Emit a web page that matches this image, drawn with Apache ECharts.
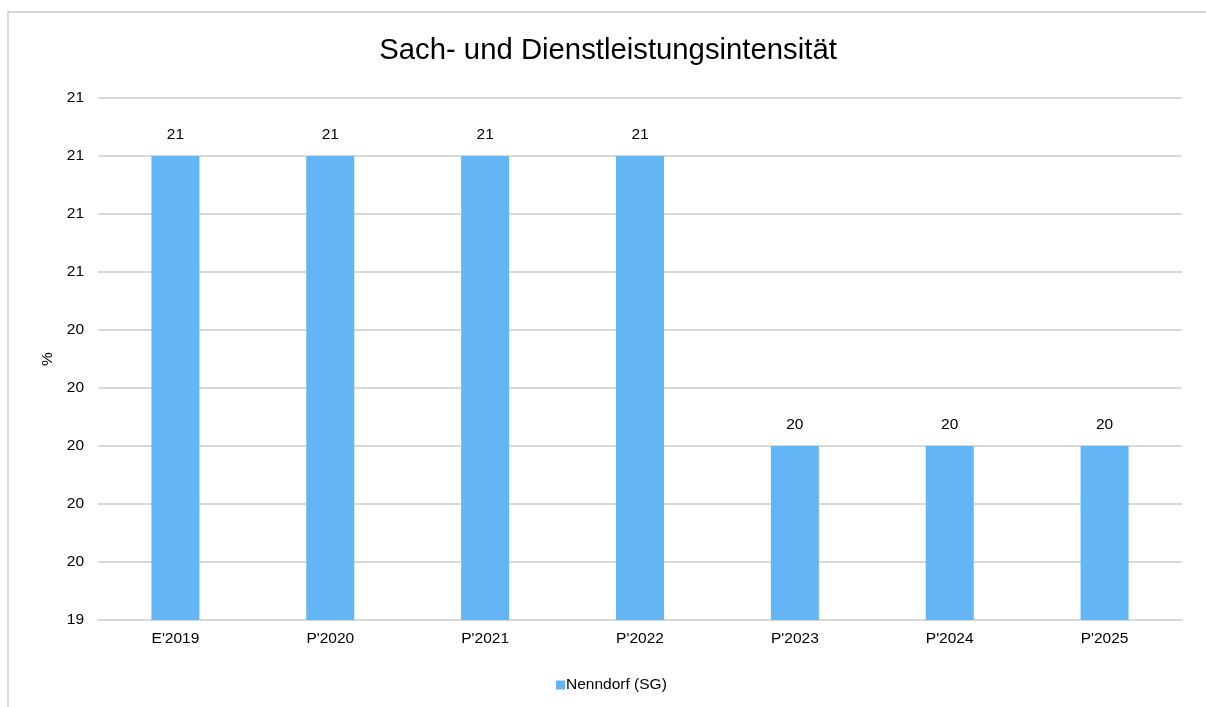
<!DOCTYPE html>
<html lang="de">
<head>
    <meta charset="UTF-8">
    <title>Sach- und Dienstleistungsintensität</title>
    <script src="https://cdn.jsdelivr.net/npm/echarts@6/dist/echarts.min.js"></script>
    <style>
        html, body { margin: 0; padding: 0; overflow: hidden; background: #fff; }
        #frame { position: absolute; left: 7px; top: 11px; width: 1300px; height: 800px; border: 2px solid #d9d9d9; box-sizing: border-box; }
        #main { position: absolute; left: 0; top: 0; width: 1206px; height: 707px; }
    </style>
</head>
<body>
<div id="frame"></div>
<div id="main"></div>
<script>
    // Daten
    const categories = ["E'2019", "P'2020", "P'2021", "P'2022", "P'2023", "P'2024", "P'2025"];
    const nenndorfValues = [21.0, 21.0, 21.0, 21.0, 20.0, 20.0, 20.0];
    const seriesName = 'Nenndorf (SG)';

    let myChart = echarts.init(document.getElementById('main'));
    let option = {
        textStyle: { fontFamily: 'Liberation Sans, Arial, sans-serif' },
        title: {
            text: 'Sach- und Dienstleistungsintensität',
            left: 603,
            textAlign: 'center',
            top: 31,
            textStyle: { fontSize: 29.3, fontWeight: 'normal', color: '#000', fontFamily: 'Liberation Sans, Arial, sans-serif' }
        },
        legend: {
            bottom: 9,
            left: 551,
            itemWidth: 9,
            itemHeight: 9,
            itemGap: 10,
            icon: 'rect',
            textStyle: { fontSize: 15.5, color: '#000', padding: [0, 0, 0, -4] },
            data: [seriesName]
        },
        grid: { left: 98, right: 24, top: 98, bottom: 87, containLabel: false },
        xAxis: {
            type: 'category',
            data: categories,
            axisLine: { lineStyle: { color: '#d9d9d9', width: 2 } },
            axisTick: { show: false },
            axisLabel: { color: '#000', fontSize: 15.5, margin: 11 }
        },
        yAxis: {
            type: 'value',
            name: '%',
            nameLocation: 'middle',
            nameGap: 40,
            nameRotate: 90,
            nameTextStyle: { color: '#000', fontSize: 15.5 },
            min: 19.4,
            max: 21.2,
            interval: 0.2,
            axisLine: { show: false },
            axisTick: { show: false },
            axisLabel: {
                color: '#000', fontSize: 15.5, margin: 14,
                formatter: v => Math.round(v).toString()
            },
            splitLine: { lineStyle: { color: '#d9d9d9', width: 2 } }
        },
        series: [{
            name: seriesName,
            type: 'bar',
            data: nenndorfValues,
            barWidth: '31%',
            itemStyle: { color: '#64b5f6' },
            label: {
                show: true,
                position: 'top',
                distance: 13,
                color: '#000',
                fontSize: 15.5,
                formatter: p => Math.round(p.value).toString()
            }
        }]
    };
    myChart.setOption(option);
</script>
</body>
</html>
